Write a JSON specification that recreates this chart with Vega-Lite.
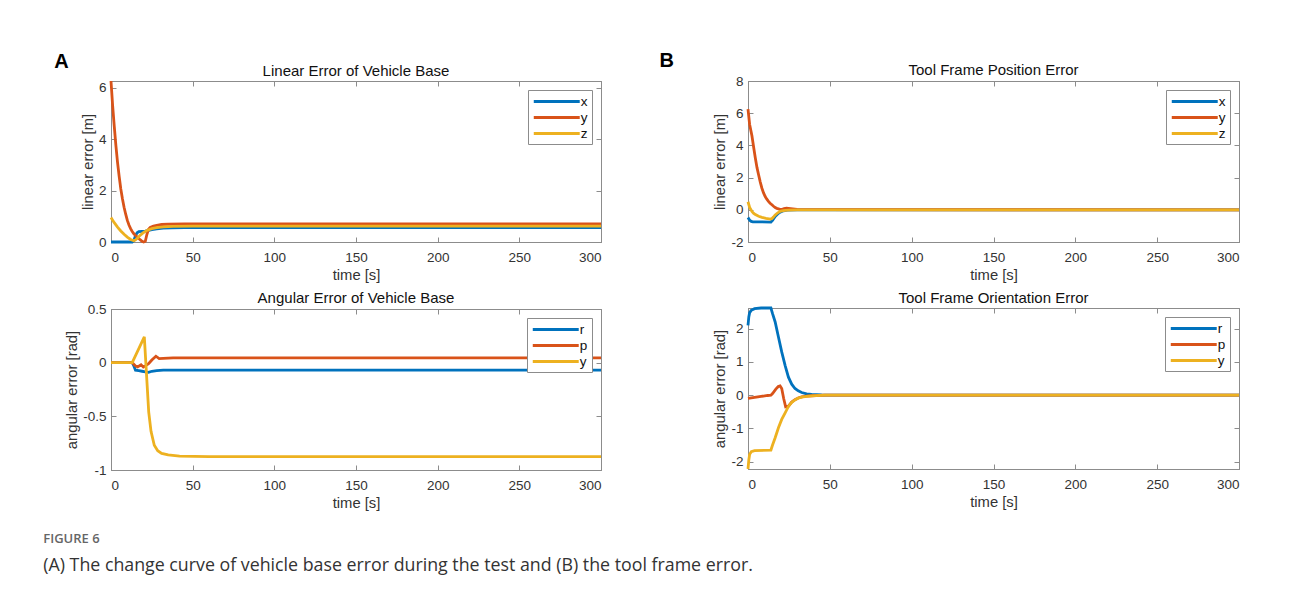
{
  "$schema": "https://vega.github.io/schema/vega-lite/v6.json",
  "background": "white",
  "padding": {"left": 43, "top": 50, "right": 5, "bottom": 5},
  "title": {
    "text": "FIGURE 6",
    "subtitle": "(A) The change curve of vehicle base error during the test and (B) the tool frame error.",
    "orient": "bottom", "anchor": "start", "frame": "bounds", "dx": -11, "offset": 22,
    "font": "Open Sans", "fontSize": 13, "fontWeight": 600, "color": "#666666",
    "subtitleFont": "Open Sans", "subtitleFontSize": 17.8, "subtitleColor": "#333333", "subtitlePadding": 11
  },
  "datasets": {
    "A1": [
      {"s": "x", "t": 0, "v": 0}, {"s": "x", "t": 13, "v": 0}, {"s": "x", "t": 14, "v": 0.05}, {"s": "x", "t": 15, "v": 0.25}, {"s": "x", "t": 16, "v": 0.36}, {"s": "x", "t": 17, "v": 0.4}, {"s": "x", "t": 19, "v": 0.41}, {"s": "x", "t": 21, "v": 0.42}, {"s": "x", "t": 23, "v": 0.45}, {"s": "x", "t": 25, "v": 0.48}, {"s": "x", "t": 28, "v": 0.51}, {"s": "x", "t": 32, "v": 0.54}, {"s": "x", "t": 37, "v": 0.55}, {"s": "x", "t": 45, "v": 0.56}, {"s": "x", "t": 300, "v": 0.56},
      {"s": "y", "t": 0, "v": 6.26}, {"s": "y", "t": 1, "v": 5.3}, {"s": "y", "t": 2, "v": 4.5}, {"s": "y", "t": 3, "v": 3.75}, {"s": "y", "t": 4, "v": 3.1}, {"s": "y", "t": 5, "v": 2.55}, {"s": "y", "t": 6, "v": 2.06}, {"s": "y", "t": 7, "v": 1.68}, {"s": "y", "t": 8, "v": 1.35}, {"s": "y", "t": 9, "v": 1.08}, {"s": "y", "t": 10, "v": 0.84}, {"s": "y", "t": 11, "v": 0.66}, {"s": "y", "t": 12, "v": 0.52}, {"s": "y", "t": 13, "v": 0.41}, {"s": "y", "t": 14, "v": 0.32}, {"s": "y", "t": 15, "v": 0.25}, {"s": "y", "t": 16, "v": 0.2}, {"s": "y", "t": 17, "v": 0.14}, {"s": "y", "t": 18, "v": 0.08}, {"s": "y", "t": 19, "v": 0.03}, {"s": "y", "t": 20, "v": 0}, {"s": "y", "t": 21, "v": 0.03}, {"s": "y", "t": 22, "v": 0.3}, {"s": "y", "t": 23, "v": 0.5}, {"s": "y", "t": 24, "v": 0.57}, {"s": "y", "t": 26, "v": 0.62}, {"s": "y", "t": 28, "v": 0.65}, {"s": "y", "t": 31, "v": 0.68}, {"s": "y", "t": 35, "v": 0.69}, {"s": "y", "t": 45, "v": 0.7}, {"s": "y", "t": 300, "v": 0.7},
      {"s": "z", "t": 0, "v": 0.95}, {"s": "z", "t": 1, "v": 0.85}, {"s": "z", "t": 2, "v": 0.75}, {"s": "z", "t": 4, "v": 0.58}, {"s": "z", "t": 6, "v": 0.43}, {"s": "z", "t": 8, "v": 0.3}, {"s": "z", "t": 10, "v": 0.19}, {"s": "z", "t": 12, "v": 0.1}, {"s": "z", "t": 14, "v": 0.05}, {"s": "z", "t": 15, "v": 0.08}, {"s": "z", "t": 16, "v": 0.14}, {"s": "z", "t": 18, "v": 0.27}, {"s": "z", "t": 20, "v": 0.37}, {"s": "z", "t": 22, "v": 0.45}, {"s": "z", "t": 25, "v": 0.52}, {"s": "z", "t": 28, "v": 0.56}, {"s": "z", "t": 32, "v": 0.59}, {"s": "z", "t": 38, "v": 0.61}, {"s": "z", "t": 50, "v": 0.62}, {"s": "z", "t": 300, "v": 0.62}
    ],
    "A2": [
      {"s": "r", "t": 0, "v": 0}, {"s": "r", "t": 13, "v": 0}, {"s": "r", "t": 14, "v": -0.03}, {"s": "r", "t": 15, "v": -0.07}, {"s": "r", "t": 17, "v": -0.075}, {"s": "r", "t": 19, "v": -0.08}, {"s": "r", "t": 21, "v": -0.085}, {"s": "r", "t": 23, "v": -0.09}, {"s": "r", "t": 25, "v": -0.08}, {"s": "r", "t": 28, "v": -0.075}, {"s": "r", "t": 32, "v": -0.07}, {"s": "r", "t": 40, "v": -0.07}, {"s": "r", "t": 300, "v": -0.07},
      {"s": "p", "t": 0, "v": 0}, {"s": "p", "t": 13, "v": 0}, {"s": "p", "t": 15, "v": -0.03}, {"s": "p", "t": 16.3, "v": -0.04}, {"s": "p", "t": 18.4, "v": -0.02}, {"s": "p", "t": 19.8, "v": -0.04}, {"s": "p", "t": 21, "v": -0.03}, {"s": "p", "t": 23, "v": -0.01}, {"s": "p", "t": 25, "v": 0.025}, {"s": "p", "t": 27.5, "v": 0.06}, {"s": "p", "t": 29.5, "v": 0.038}, {"s": "p", "t": 32, "v": 0.04}, {"s": "p", "t": 38, "v": 0.045}, {"s": "p", "t": 300, "v": 0.045},
      {"s": "y", "t": 0, "v": 0}, {"s": "y", "t": 13, "v": 0}, {"s": "y", "t": 20.4, "v": 0.24}, {"s": "y", "t": 21.4, "v": -0.02}, {"s": "y", "t": 23.1, "v": -0.46}, {"s": "y", "t": 24.5, "v": -0.64}, {"s": "y", "t": 26.5, "v": -0.77}, {"s": "y", "t": 28.6, "v": -0.82}, {"s": "y", "t": 31, "v": -0.845}, {"s": "y", "t": 35, "v": -0.86}, {"s": "y", "t": 42, "v": -0.87}, {"s": "y", "t": 60, "v": -0.875}, {"s": "y", "t": 300, "v": -0.875}
    ],
    "B1": [
      {"s": "x", "t": 0, "v": -0.48}, {"s": "x", "t": 1, "v": -0.65}, {"s": "x", "t": 2, "v": -0.72}, {"s": "x", "t": 3, "v": -0.75}, {"s": "x", "t": 14, "v": -0.76}, {"s": "x", "t": 15, "v": -0.65}, {"s": "x", "t": 16.6, "v": -0.42}, {"s": "x", "t": 18.6, "v": -0.22}, {"s": "x", "t": 20, "v": -0.13}, {"s": "x", "t": 21.7, "v": -0.06}, {"s": "x", "t": 24, "v": -0.02}, {"s": "x", "t": 30, "v": 0}, {"s": "x", "t": 300, "v": 0},
      {"s": "y", "t": 0, "v": 6.25}, {"s": "y", "t": 1, "v": 5.3}, {"s": "y", "t": 2.4, "v": 4.6}, {"s": "y", "t": 3.5, "v": 3.85}, {"s": "y", "t": 4.5, "v": 3.2}, {"s": "y", "t": 5.5, "v": 2.62}, {"s": "y", "t": 6.5, "v": 2.16}, {"s": "y", "t": 7.5, "v": 1.72}, {"s": "y", "t": 8.5, "v": 1.34}, {"s": "y", "t": 9.5, "v": 1.05}, {"s": "y", "t": 10.5, "v": 0.82}, {"s": "y", "t": 11.5, "v": 0.66}, {"s": "y", "t": 12.5, "v": 0.52}, {"s": "y", "t": 13.5, "v": 0.41}, {"s": "y", "t": 14.6, "v": 0.31}, {"s": "y", "t": 15.6, "v": 0.22}, {"s": "y", "t": 16.6, "v": 0.14}, {"s": "y", "t": 17.6, "v": 0.09}, {"s": "y", "t": 18.6, "v": 0.06}, {"s": "y", "t": 19.6, "v": 0.03}, {"s": "y", "t": 20.6, "v": 0.02}, {"s": "y", "t": 22, "v": 0.08}, {"s": "y", "t": 23.5, "v": 0.1}, {"s": "y", "t": 26, "v": 0.07}, {"s": "y", "t": 30, "v": 0.03}, {"s": "y", "t": 40, "v": 0.005}, {"s": "y", "t": 300, "v": 0},
      {"s": "z", "t": 0, "v": 0.5}, {"s": "z", "t": 1, "v": 0.15}, {"s": "z", "t": 2.4, "v": -0.1}, {"s": "z", "t": 3.5, "v": -0.22}, {"s": "z", "t": 4.5, "v": -0.3}, {"s": "z", "t": 6.5, "v": -0.4}, {"s": "z", "t": 8.5, "v": -0.47}, {"s": "z", "t": 11, "v": -0.53}, {"s": "z", "t": 13.6, "v": -0.58}, {"s": "z", "t": 14.5, "v": -0.55}, {"s": "z", "t": 15.5, "v": -0.45}, {"s": "z", "t": 16.6, "v": -0.32}, {"s": "z", "t": 18, "v": -0.2}, {"s": "z", "t": 19.6, "v": -0.1}, {"s": "z", "t": 21.5, "v": -0.05}, {"s": "z", "t": 24.7, "v": -0.02}, {"s": "z", "t": 30, "v": 0}, {"s": "z", "t": 300, "v": 0}
    ],
    "B2": [
      {"s": "r", "t": 0, "v": 2.1}, {"s": "r", "t": 0.5, "v": 2.35}, {"s": "r", "t": 1, "v": 2.48}, {"s": "r", "t": 2, "v": 2.55}, {"s": "r", "t": 4, "v": 2.6}, {"s": "r", "t": 8, "v": 2.62}, {"s": "r", "t": 14, "v": 2.62}, {"s": "r", "t": 15, "v": 2.45}, {"s": "r", "t": 16.6, "v": 2.2}, {"s": "r", "t": 18.6, "v": 1.75}, {"s": "r", "t": 20.6, "v": 1.3}, {"s": "r", "t": 22.7, "v": 0.89}, {"s": "r", "t": 24.7, "v": 0.54}, {"s": "r", "t": 26.7, "v": 0.33}, {"s": "r", "t": 28.7, "v": 0.2}, {"s": "r", "t": 30.7, "v": 0.13}, {"s": "r", "t": 32.8, "v": 0.08}, {"s": "r", "t": 35.8, "v": 0.04}, {"s": "r", "t": 38.9, "v": 0.02}, {"s": "r", "t": 45, "v": 0.005}, {"s": "r", "t": 300, "v": 0},
      {"s": "p", "t": 0, "v": -0.1}, {"s": "p", "t": 4, "v": -0.07}, {"s": "p", "t": 8, "v": -0.04}, {"s": "p", "t": 12, "v": -0.01}, {"s": "p", "t": 14, "v": 0}, {"s": "p", "t": 15, "v": 0.05}, {"s": "p", "t": 17, "v": 0.18}, {"s": "p", "t": 18.5, "v": 0.26}, {"s": "p", "t": 19.6, "v": 0.28}, {"s": "p", "t": 20.6, "v": 0.2}, {"s": "p", "t": 21.8, "v": -0.1}, {"s": "p", "t": 23, "v": -0.35}, {"s": "p", "t": 24.7, "v": -0.33}, {"s": "p", "t": 26.7, "v": -0.21}, {"s": "p", "t": 28.7, "v": -0.135}, {"s": "p", "t": 30.7, "v": -0.085}, {"s": "p", "t": 32.8, "v": -0.055}, {"s": "p", "t": 35.8, "v": -0.03}, {"s": "p", "t": 38.9, "v": -0.018}, {"s": "p", "t": 47, "v": 0}, {"s": "p", "t": 300, "v": 0},
      {"s": "y", "t": 0, "v": -2.22}, {"s": "y", "t": 0.5, "v": -1.95}, {"s": "y", "t": 1, "v": -1.78}, {"s": "y", "t": 2, "v": -1.7}, {"s": "y", "t": 4, "v": -1.67}, {"s": "y", "t": 14, "v": -1.65}, {"s": "y", "t": 15, "v": -1.5}, {"s": "y", "t": 16.6, "v": -1.28}, {"s": "y", "t": 18.6, "v": -0.98}, {"s": "y", "t": 20.6, "v": -0.73}, {"s": "y", "t": 22.7, "v": -0.53}, {"s": "y", "t": 24.7, "v": -0.34}, {"s": "y", "t": 26.7, "v": -0.22}, {"s": "y", "t": 28.7, "v": -0.14}, {"s": "y", "t": 30.7, "v": -0.09}, {"s": "y", "t": 32.8, "v": -0.06}, {"s": "y", "t": 35.8, "v": -0.035}, {"s": "y", "t": 38.9, "v": -0.02}, {"s": "y", "t": 47, "v": 0}, {"s": "y", "t": 300, "v": 0}
    ]
  },
  "hconcat": [
    {
      "title": {"text": "A", "anchor": "start", "font": "Liberation Sans", "fontSize": 20, "fontWeight": "bold", "color": "#000000", "dx": -10, "offset": -8},
      "spacing": 7,
      "resolve": {"scale": {"color": "independent"}, "legend": {"color": "independent"}},
      "vconcat": [
        {
          "title": "Linear Error of Vehicle Base",
          "width": 490, "height": 161,
          "data": {"name": "A1"},
          "layer": [
            {
              "mark": {"type": "line", "strokeWidth": 2.8},
              "encoding": {
                "x": {"field": "t", "type": "quantitative", "scale": {"domain": [0, 300], "nice": false, "zero": false}, "axis": {"title": "time [s]", "values": [0, 50, 100, 150, 200, 250, 300]}},
                "y": {"field": "v", "type": "quantitative", "scale": {"domain": [0, 6.26], "nice": false, "zero": false}, "axis": {"title": "linear error [m]", "values": [0, 2, 4, 6], "format": "~g"}},
                "color": {"field": "s", "type": "nominal", "scale": {"domain": ["x", "y", "z"], "range": ["#0072BD", "#D95319", "#EDB120"]}, "legend": {"title": null, "symbolType": "M-4,0H4"}}
              }
            },
            {
              "mark": {"type": "line", "opacity": 0},
              "encoding": {
                "x": {"field": "t", "type": "quantitative", "axis": {"orient": "top", "labels": false, "title": null, "values": [0, 50, 100, 150, 200, 250, 300]}},
                "y": {"field": "v", "type": "quantitative", "axis": {"orient": "right", "labels": false, "title": null, "values": [0, 2, 4, 6]}}
              }
            }
          ],
          "resolve": {"axis": {"x": "independent", "y": "independent"}}
        },
        {
          "title": "Angular Error of Vehicle Base",
          "width": 490, "height": 161,
          "data": {"name": "A2"},
          "layer": [
            {
              "mark": {"type": "line", "strokeWidth": 2.8},
              "encoding": {
                "x": {"field": "t", "type": "quantitative", "scale": {"domain": [0, 300], "nice": false, "zero": false}, "axis": {"title": "time [s]", "values": [0, 50, 100, 150, 200, 250, 300]}},
                "y": {"field": "v", "type": "quantitative", "scale": {"domain": [-1, 0.5], "nice": false, "zero": false}, "axis": {"title": "angular error [rad]", "values": [-1, -0.5, 0, 0.5], "format": "~g"}},
                "color": {"field": "s", "type": "nominal", "scale": {"domain": ["r", "p", "y"], "range": ["#0072BD", "#D95319", "#EDB120"]}, "legend": {"title": null, "symbolType": "M-4,0H4"}}
              }
            },
            {
              "mark": {"type": "line", "opacity": 0},
              "encoding": {
                "x": {"field": "t", "type": "quantitative", "axis": {"orient": "top", "labels": false, "title": null, "values": [0, 50, 100, 150, 200, 250, 300]}},
                "y": {"field": "v", "type": "quantitative", "axis": {"orient": "right", "labels": false, "title": null, "values": [-1, -0.5, 0, 0.5]}}
              }
            }
          ],
          "resolve": {"axis": {"x": "independent", "y": "independent"}}
        }
      ]
    },
    {
      "title": {"text": "B", "anchor": "start", "font": "Liberation Sans", "fontSize": 20, "fontWeight": "bold", "color": "#000000", "dx": -53, "offset": -8},
      "spacing": 7,
      "resolve": {"scale": {"color": "independent"}, "legend": {"color": "independent"}},
      "vconcat": [
        {
          "title": "Tool Frame Position Error",
          "width": 491, "height": 161,
          "data": {"name": "B1"},
          "layer": [
            {
              "mark": {"type": "line", "strokeWidth": 2.8},
              "encoding": {
                "x": {"field": "t", "type": "quantitative", "scale": {"domain": [0, 300], "nice": false, "zero": false}, "axis": {"title": "time [s]", "values": [0, 50, 100, 150, 200, 250, 300]}},
                "y": {"field": "v", "type": "quantitative", "scale": {"domain": [-2, 8], "nice": false, "zero": false}, "axis": {"title": "linear error [m]", "values": [-2, 0, 2, 4, 6, 8], "format": "~g"}},
                "color": {"field": "s", "type": "nominal", "scale": {"domain": ["x", "y", "z"], "range": ["#0072BD", "#D95319", "#EDB120"]}, "legend": {"title": null, "symbolType": "M-4,0H4"}}
              }
            },
            {
              "mark": {"type": "line", "opacity": 0},
              "encoding": {
                "x": {"field": "t", "type": "quantitative", "axis": {"orient": "top", "labels": false, "title": null, "values": [0, 50, 100, 150, 200, 250, 300]}},
                "y": {"field": "v", "type": "quantitative", "axis": {"orient": "right", "labels": false, "title": null, "values": [-2, 0, 2, 4, 6, 8]}}
              }
            }
          ],
          "resolve": {"axis": {"x": "independent", "y": "independent"}}
        },
        {
          "title": "Tool Frame Orientation Error",
          "width": 491, "height": 161,
          "data": {"name": "B2"},
          "layer": [
            {
              "mark": {"type": "line", "strokeWidth": 2.8},
              "encoding": {
                "x": {"field": "t", "type": "quantitative", "scale": {"domain": [0, 300], "nice": false, "zero": false}, "axis": {"title": "time [s]", "values": [0, 50, 100, 150, 200, 250, 300]}},
                "y": {"field": "v", "type": "quantitative", "scale": {"domain": [-2.22, 2.62], "nice": false, "zero": false}, "axis": {"title": "angular error [rad]", "values": [-2, -1, 0, 1, 2], "format": "~g"}},
                "color": {"field": "s", "type": "nominal", "scale": {"domain": ["r", "p", "y"], "range": ["#0072BD", "#D95319", "#EDB120"]}, "legend": {"title": null, "symbolType": "M-4,0H4"}}
              }
            },
            {
              "mark": {"type": "line", "opacity": 0},
              "encoding": {
                "x": {"field": "t", "type": "quantitative", "axis": {"orient": "top", "labels": false, "title": null, "values": [0, 50, 100, 150, 200, 250, 300]}},
                "y": {"field": "v", "type": "quantitative", "axis": {"orient": "right", "labels": false, "title": null, "values": [-2, -1, 0, 1, 2]}}
              }
            }
          ],
          "resolve": {"axis": {"x": "independent", "y": "independent"}}
        }
      ]
    }
  ],
  "spacing": 51,
  "resolve": {"scale": {"color": "independent"}, "legend": {"color": "independent"}},
  "config": {
    "font": "Liberation Sans",
    "locale": {"number": {"decimal": ".", "thousands": ",", "grouping": [3], "currency": ["$", ""], "minus": "-"}},
    "view": {"stroke": "#8c8c8c", "strokeWidth": 1},
    "axis": {
      "grid": false, "domainColor": "#8c8c8c", "tickColor": "#8c8c8c", "tickSize": -5,
      "labelFont": "Liberation Sans", "labelFontSize": 13.5, "labelColor": "#333333",
      "titleFont": "Liberation Sans", "titleFontSize": 14.8, "titleFontWeight": "normal", "titleColor": "#333333"
    },
    "axisX": {"labelPadding": 13, "titlePadding": 4},
    "axisY": {"labelPadding": 10, "titlePadding": 3},
    "title": {"font": "Liberation Sans", "fontSize": 15, "fontWeight": "normal", "color": "#111111", "offset": -4},
    "legend": {
      "orient": "top-right", "offset": 9, "fillColor": "white", "strokeColor": "#8c8c8c", "padding": 4,
      "symbolSize": 132, "symbolStrokeWidth": 3, "symbolOffset": 17.25,
      "labelFont": "Liberation Sans", "labelFontSize": 13.5, "labelColor": "#111111", "labelOffset": 16.5, "rowPadding": 2
    }
  }
}
